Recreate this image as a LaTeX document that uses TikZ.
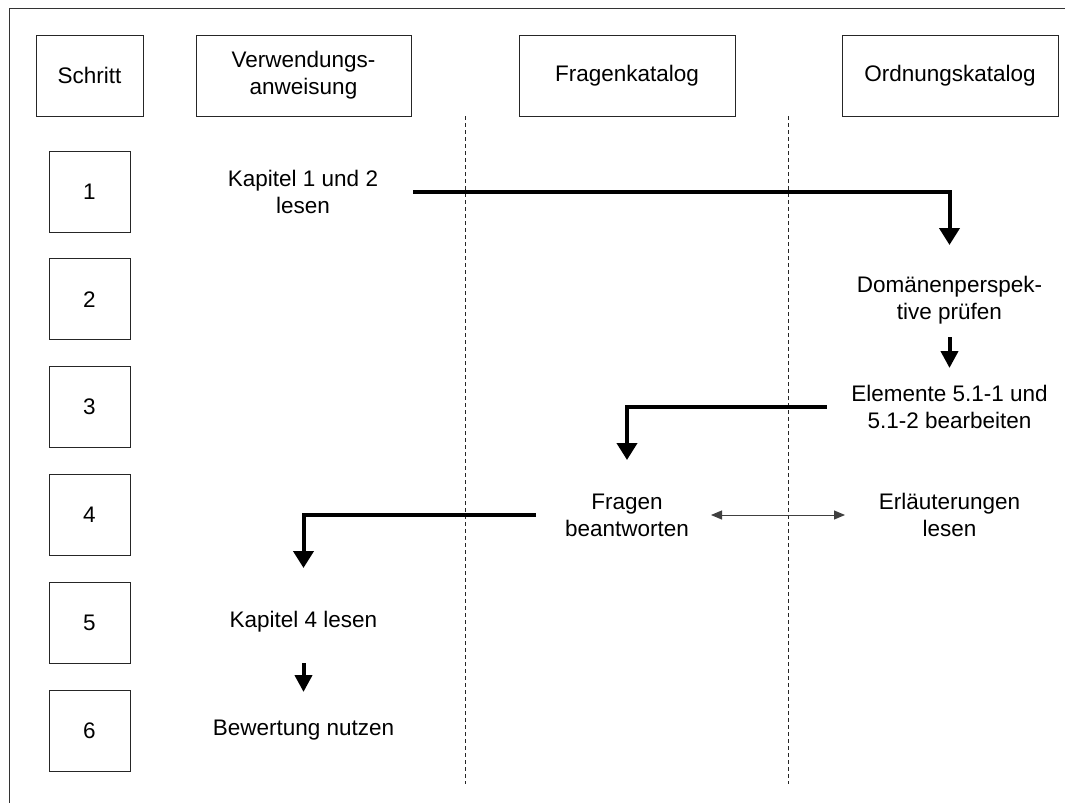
\documentclass[tikz,border=0pt]{standalone}
\usepackage{fontspec}
\setmainfont{Liberation Sans}
\usetikzlibrary{arrows.meta}
\begin{document}
\begin{tikzpicture}[x=0.5pt,y=-0.5pt,
  every node/.style={font=\fontsize{11.25}{13.5}\selectfont, align=center, inner sep=0pt},
  hdrbox/.style={draw=black!85, line width=0.5pt, minimum height=40.5pt},
  stepbox/.style={draw=black!85, line width=0.5pt, minimum width=40.5pt, minimum height=40.5pt},
  bigarrow/.style={line width=2pt, line join=miter, -{Triangle[length=8.5pt,width=10pt]}},
  smallarrow/.style={line width=2pt, -{Triangle[length=8.5pt,width=8.5pt]}},
  thinarrow/.style={line width=0.5pt, draw=black!75, {Triangle[length=5.5pt,width=4.5pt]}-{Triangle[length=5.5pt,width=4.5pt]}},
  lane/.style={line width=0.5pt, black!85, dash pattern=on 2pt off 1.5pt}
]
\useasboundingbox (0,0) rectangle (1067,803);
\draw[line width=0.5pt, black!80] (9,803) -- (9,8) -- (1065,8);

% header
\node[hdrbox, minimum width=53.5pt] (schritt) at (89.5,75.5) {Schritt};
\node[hdrbox, minimum width=107.5pt] (verw) at (303.5,75.5) {Verwendungs-\\anweisung};
\node[hdrbox, minimum width=108pt] (frag) at (627,75.5) {Fragenkatalog};
\node[hdrbox, minimum width=108pt] (ord) at (950,75.5) {Ordnungskatalog};

% lanes
\draw[lane] (465.5,116) -- (465.5,784);
\draw[lane] (788.5,116) -- (788.5,784);

% steps
\node[stepbox] (s1) at (89.5,191.5) {1};
\node[stepbox] (s2) at (89.5,299.3) {2};
\node[stepbox] (s3) at (89.5,407) {3};
\node[stepbox] (s4) at (89.5,514.8) {4};
\node[stepbox] (s5) at (89.5,622.5) {5};
\node[stepbox] (s6) at (89.5,730.5) {6};

% activities
\node[minimum width=110pt] (k12) at (303,192) {Kapitel 1 und 2\\lesen};
\node (dom) at (949.5,300) {Domänenperspek-\\tive prüfen};
\node (elem) at (949.5,407) {Elemente 5.1-1 und\\5.1-2 bearbeiten};
\node (fragb) at (627,515) {Fragen\\beantworten};
\node (erl) at (949.5,515) {Erläuterungen\\lesen};
\node (k4) at (303.5,622) {Kapitel 4 lesen};
\node (bew) at (303.5,730) {Bewertung nutzen};

% connectors
\draw[bigarrow] (k12.east) -| ([shift={(0,-55)}]dom.center);
\draw[smallarrow] ([shift={(0,37)}]dom.center) -- ([shift={(0,-39)}]elem.center);
\draw[bigarrow] ([shift={(-123,0)}]elem.center) -| ([shift={(0,-55)}]fragb.center);
\draw[bigarrow] ([shift={(-91,0)}]fragb.center) -| ([shift={(0,-54)}]k4.center);
\draw[smallarrow] ([shift={(0,41)}]k4.center) -- ([shift={(0,-38)}]bew.center);
\draw[thinarrow] ([shift={(84,0)}]fragb.center) -- ([shift={(-104.5,0)}]erl.center);
\end{tikzpicture}
\end{document}
